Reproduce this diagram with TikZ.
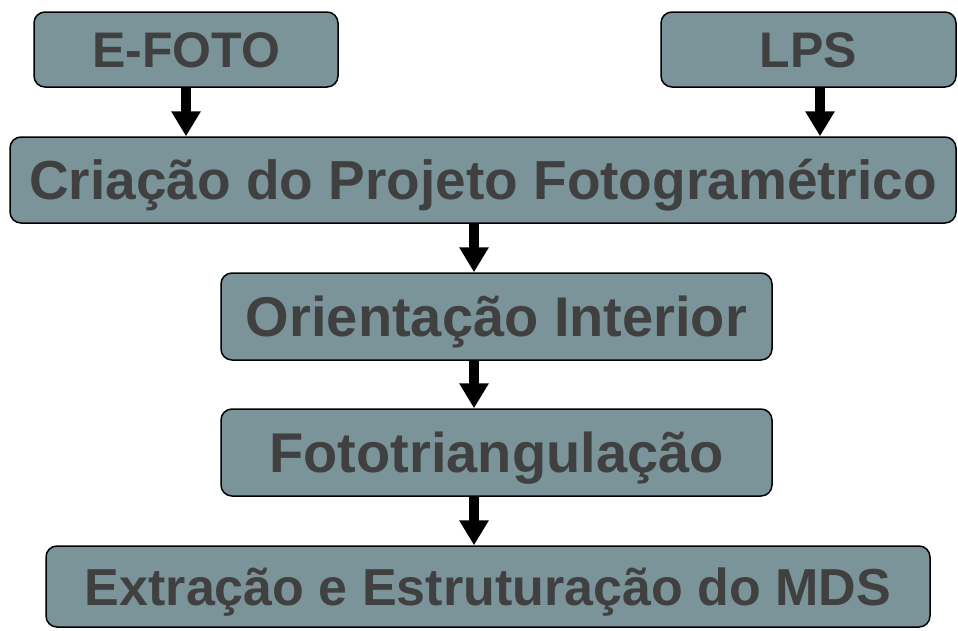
\documentclass[tikz,border=0pt]{standalone}
\usepackage{fontspec}
\setmainfont{Liberation Sans}
\usetikzlibrary{arrows.meta}
\definecolor{boxfill}{RGB}{122,148,153}
\definecolor{boxtext}{RGB}{64,64,64}
\begin{document}
\begin{tikzpicture}[x=1pt,y=-1pt]
  \tikzstyle{every node}=[draw=black,line width=1.5pt,fill=boxfill,rounded corners=11pt,
    inner sep=0pt,text=boxtext,text depth=0pt]
  \tikzstyle{big}=[font=\bfseries\fontsize{56}{60}\selectfont,text height=40pt]
  \tikzstyle{small}=[font=\bfseries\fontsize{50}{54}\selectfont,text height=36pt]
  \tikzstyle{arr}=[line width=10pt,-{Triangle[width=28pt,length=25pt]}]
  \useasboundingbox (0,0) rectangle (958,630);
  \node[small,minimum width=304pt,minimum height=75pt] (efoto) at (186,49.5) {E-FOTO};
  \node[small,minimum width=295pt,minimum height=75pt] (lps) at (808.5,49.5) {LPS};
  \node[font=\bfseries\fontsize{55}{60}\selectfont,text height=39.5pt,minimum width=946pt,minimum height=86pt] (criacao) at (483,180) {Criação do Projeto Fotogramétrico};
  \node[big,minimum width=551pt,minimum height=87pt] (orient) at (496.5,316.5) {Orientação Interior};
  \node[big,minimum width=551pt,minimum height=87pt] (foto) at (496.5,452.5) {Fototriangulação};
  \node[font=\bfseries\fontsize{52}{56}\selectfont,text height=37.5pt,minimum width=884pt,minimum height=81pt] (extr) at (488,586.5)
    {Extração e Estruturação do MDS};
  \coordinate (lpsx) at (820,0);
  \coordinate (midx) at (474,0);
  \draw[arr] (efoto.south) -- (efoto.south |- criacao.north);
  \draw[arr] (lps.south -| lpsx) -- (criacao.north -| lpsx);
  \draw[arr] (criacao.south -| midx) -- (orient.north -| midx);
  \draw[arr] (orient.south -| midx) -- (foto.north -| midx);
  \draw[arr] (foto.south -| midx) -- (extr.north -| midx);
\end{tikzpicture}
\end{document}
